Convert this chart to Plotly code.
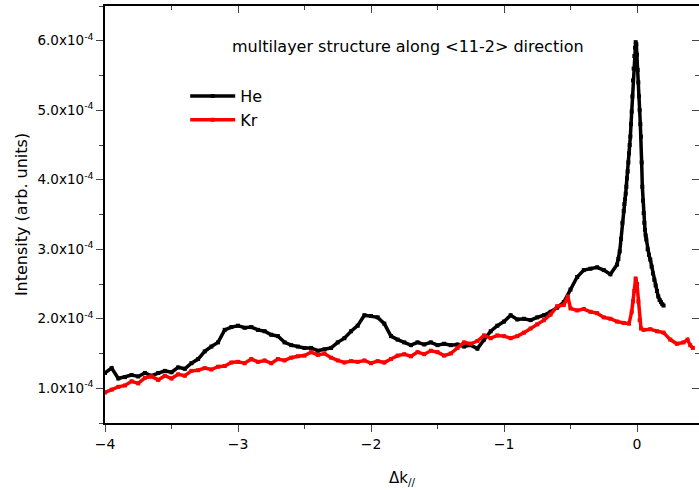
import plotly.graph_objects as go

# ---- data (intensity in units of 1e-4) ----
he_x = [-4.00, -3.95, -3.90, -3.85, -3.80, -3.75, -3.70, -3.65, -3.60, -3.55,
        -3.50, -3.45, -3.40, -3.35, -3.30, -3.25, -3.20, -3.15, -3.10, -3.05,
        -3.00, -2.95, -2.90, -2.85, -2.80, -2.75, -2.70, -2.65, -2.60, -2.55,
        -2.50, -2.45, -2.40, -2.35, -2.30, -2.25, -2.20, -2.15, -2.10, -2.05,
        -2.00, -1.95, -1.90, -1.85, -1.80, -1.75, -1.70, -1.65, -1.60, -1.55,
        -1.50, -1.45, -1.40, -1.35, -1.30, -1.25, -1.20, -1.15, -1.10, -1.05,
        -1.00, -0.95, -0.90, -0.85, -0.80, -0.75, -0.70, -0.65, -0.60, -0.55,
        -0.50, -0.45, -0.40, -0.35, -0.30, -0.25, -0.20, -0.15, -0.14, -0.13,
        -0.12, -0.11, -0.100, -0.095, -0.090, -0.085, -0.080, -0.075, -0.070,
        -0.065, -0.060, -0.055, -0.050, -0.045, -0.040, -0.035, -0.030, -0.025,
        -0.020, -0.015, -0.010, -0.005, 0.000, 0.005, 0.010, 0.015, 0.020,
        0.025, 0.030, 0.035, 0.040, 0.045, 0.050, 0.055, 0.060, 0.065, 0.070,
        0.08, 0.09, 0.10, 0.11, 0.12, 0.13, 0.14, 0.15, 0.16, 0.17, 0.18,
        0.19, 0.20]
he_y = [1.22, 1.29, 1.14, 1.16, 1.19, 1.17, 1.22, 1.18, 1.22, 1.25,
        1.23, 1.30, 1.28, 1.36, 1.42, 1.53, 1.60, 1.66, 1.84, 1.88,
        1.90, 1.87, 1.88, 1.84, 1.82, 1.77, 1.75, 1.66, 1.62, 1.60,
        1.58, 1.58, 1.54, 1.56, 1.58, 1.66, 1.72, 1.82, 1.90, 2.05,
        2.04, 2.02, 1.93, 1.75, 1.70, 1.66, 1.62, 1.66, 1.63, 1.66,
        1.62, 1.64, 1.62, 1.63, 1.60, 1.62, 1.57, 1.70, 1.82, 1.90,
        1.96, 2.05, 1.99, 2.00, 1.98, 2.02, 2.05, 2.10, 2.16, 2.24,
        2.42, 2.60, 2.70, 2.72, 2.74, 2.70, 2.64, 2.78, 2.86, 2.97,
        3.15, 3.38, 3.55, 3.65, 3.72, 3.80, 3.90, 4.02, 4.12,
        4.25, 4.38, 4.50, 4.62, 4.80, 4.98, 5.20, 5.43, 5.60,
        5.78, 5.90, 5.98, 5.95, 5.80, 5.58, 5.40, 5.20, 5.00,
        4.80, 4.62, 4.25, 3.90, 3.70, 3.52, 3.38, 3.28, 3.20, 3.14,
        3.00, 2.92, 2.85, 2.75, 2.65, 2.56, 2.48, 2.40, 2.32, 2.27, 2.24,
        2.21, 2.19]

kr_x = [-4.00, -3.95, -3.90, -3.85, -3.80, -3.75, -3.70, -3.65, -3.60, -3.55,
        -3.50, -3.45, -3.40, -3.35, -3.30, -3.25, -3.20, -3.15, -3.10, -3.05,
        -3.00, -2.95, -2.90, -2.85, -2.80, -2.75, -2.70, -2.65, -2.60, -2.55,
        -2.50, -2.45, -2.40, -2.35, -2.30, -2.25, -2.20, -2.15, -2.10, -2.05,
        -2.00, -1.95, -1.90, -1.85, -1.80, -1.75, -1.70, -1.65, -1.60, -1.55,
        -1.50, -1.45, -1.40, -1.35, -1.30, -1.25, -1.20, -1.15, -1.10, -1.05,
        -1.00, -0.95, -0.90, -0.85, -0.80, -0.75, -0.70, -0.65, -0.60, -0.55,
        -0.52, -0.50, -0.45, -0.40, -0.35, -0.30, -0.25, -0.20, -0.15, -0.10,
        -0.06, -0.04, -0.03, -0.02, -0.01, 0.00, 0.01, 0.02, 0.03, 0.05,
        0.10, 0.15, 0.20, 0.25, 0.30, 0.35, 0.38, 0.40, 0.42]
kr_y = [0.94, 0.98, 1.02, 1.04, 1.10, 1.07, 1.15, 1.17, 1.12, 1.18,
        1.14, 1.20, 1.18, 1.25, 1.26, 1.29, 1.27, 1.31, 1.32, 1.37,
        1.38, 1.36, 1.42, 1.38, 1.40, 1.36, 1.42, 1.40, 1.44, 1.46,
        1.47, 1.52, 1.48, 1.50, 1.44, 1.40, 1.37, 1.39, 1.38, 1.40,
        1.36, 1.39, 1.37, 1.42, 1.47, 1.49, 1.46, 1.52, 1.49, 1.54,
        1.52, 1.47, 1.50, 1.58, 1.66, 1.64, 1.68, 1.76, 1.72, 1.76,
        1.75, 1.72, 1.75, 1.80, 1.86, 1.92, 1.98, 2.06, 2.18, 2.20,
        2.32, 2.15, 2.12, 2.14, 2.10, 2.08, 2.02, 2.00, 1.96, 1.94,
        1.93, 2.10, 2.25, 2.40, 2.58, 2.50, 2.25, 1.98, 1.86, 1.84,
        1.85, 1.82, 1.80, 1.70, 1.64, 1.66, 1.70, 1.62, 1.58]

y_tickvals = [1, 2, 3, 4, 5, 6]
y_ticktext = ["%.1fx10<sup>-4</sup>" % v for v in y_tickvals]
x_tickvals = [-4, -3, -2, -1, 0]

FONT = "DejaVu Sans, Liberation Sans, sans-serif"
XR = [-4, -4 + 594 / 133.0]
YR = [0.5, 6.5]

fig = go.Figure()
fig.add_trace(go.Scatter(x=he_x, y=he_y, name="He", mode="lines+markers",
                         line=dict(color="black", width=3.5),
                         marker=dict(symbol="square", size=4, color="black")))
fig.add_trace(go.Scatter(x=kr_x, y=kr_y, name="Kr", mode="lines+markers",
                         line=dict(color="#ff0000", width=3.5),
                         marker=dict(symbol="square", size=4, color="#ff0000")))
fig.add_trace(go.Scatter(x=[None], y=[None], xaxis="x2", yaxis="y2",
                         showlegend=False, hoverinfo="skip"))

fig.update_layout(
    width=699, height=492,
    margin=dict(l=105, r=0, t=6, b=69),
    paper_bgcolor="white", plot_bgcolor="white",
    font=dict(family=FONT, size=15, color="black"),
    showlegend=True,
    legend=dict(x=0.135, y=0.825, xanchor="left", yanchor="top",
                bgcolor="rgba(0,0,0,0)", font=dict(size=16),
                itemwidth=45, tracegroupgap=0),
    xaxis=dict(range=XR, tickvals=x_tickvals, ticks="outside", ticklen=7,
               tickwidth=1, showline=True, linecolor="black", linewidth=1.5,
               showgrid=False, zeroline=False, tickfont=dict(size=14),
               minor=dict(ticks="outside", ticklen=4, dtick=0.5, tick0=-4,
                          tickwidth=1, showgrid=False),
               title=dict(text="Δk<sub>//</sub>", font=dict(size=15), standoff=22)),
    yaxis=dict(range=YR, tickvals=y_tickvals, ticktext=y_ticktext,
               ticks="outside", ticklen=7, tickwidth=1, showline=True,
               linecolor="black", linewidth=1.5, showgrid=False, zeroline=False,
               tickfont=dict(size=13.5),
               minor=dict(ticks="outside", ticklen=4, dtick=0.5, tick0=0.5,
                          tickwidth=1, showgrid=False),
               title=dict(text="Intensity (arb. units)", font=dict(size=16),
                          standoff=6)),
    xaxis2=dict(range=XR, overlaying="x", side="top", tickvals=x_tickvals,
                ticks="inside", ticklen=7, tickwidth=1, showline=True,
                linecolor="black", linewidth=1.5, showticklabels=False,
                showgrid=False, zeroline=False,
                minor=dict(ticks="inside", ticklen=4, dtick=0.5, tick0=-4,
                           tickwidth=1, showgrid=False)),
    yaxis2=dict(range=YR, overlaying="y", side="right", tickvals=y_tickvals,
                ticks="inside", ticklen=7, tickwidth=1, showline=False,
                showticklabels=False, showgrid=False, zeroline=False,
                minor=dict(ticks="inside", ticklen=4, dtick=0.5, tick0=0.5,
                           tickwidth=1, showgrid=False)),
    annotations=[dict(text="multilayer structure along &lt;11-2&gt; direction",
                      x=0.51, y=0.904, xref="paper", yref="paper",
                      xanchor="center", yanchor="middle",
                      showarrow=False, font=dict(size=16))],
)

fig.write_html("out.html")
